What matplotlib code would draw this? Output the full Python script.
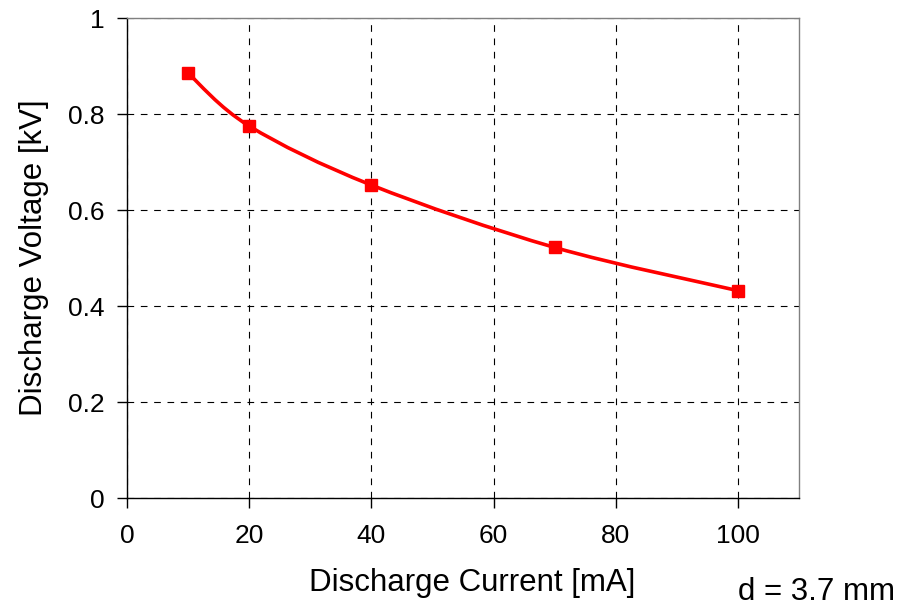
import matplotlib
matplotlib.use("Agg")
import matplotlib.pyplot as plt
from matplotlib.path import Path
from matplotlib.patches import PathPatch

plt.rcParams['font.family'] = ['Liberation Sans', 'DejaVu Sans']

current = [10, 20, 40, 70, 100]
voltage = [0.885, 0.775, 0.652, 0.522, 0.432]
xticks = [0, 20, 40, 60, 80, 100]
xticklabels = ["0", "20", "40", "60", "80", "100"]
yticks = [0, 0.2, 0.4, 0.6, 0.8, 1.0]
yticklabels = ["0", "0.2", "0.4", "0.6", "0.8", "1"]

fig = plt.figure(figsize=(9.09, 6.06), dpi=100)
ax = fig.add_axes([127/909, 1-498/606, (799-127)/909, (498-18)/606])
ax.set_xlim(0, 110)
ax.set_ylim(0, 1)

# Smoothed line (Bezier, Excel-style)
pts = list(zip(current, voltage))
n = len(pts)
verts = [pts[0]]
codes = [Path.MOVETO]
for i in range(n - 1):
    p0 = pts[i - 1] if i > 0 else pts[i]
    p1 = pts[i]
    p2 = pts[i + 1]
    p3 = pts[i + 2] if i + 2 < n else pts[i + 1]
    c1 = (p1[0] + (p2[0] - p0[0]) / 6, p1[1] + (p2[1] - p0[1]) / 6)
    c2 = (p2[0] - (p3[0] - p1[0]) / 6, p2[1] - (p3[1] - p1[1]) / 6)
    verts += [c1, c2, p2]
    codes += [Path.CURVE4] * 3
ax.add_patch(PathPatch(Path(verts, codes), facecolor='none', edgecolor='#ff0000',
                       lw=2.6, zorder=3, capstyle='round', joinstyle='round'))
ax.plot(current, voltage, linestyle='none', marker='s', markersize=8.5,
        color='#ff0000', zorder=4)

ax.set_xticks(xticks)
ax.set_xticklabels(xticklabels)
ax.set_yticks(yticks)
ax.set_yticklabels(yticklabels)
ax.tick_params(direction='out', length=7, width=1, labelsize=19, colors='black')
ax.tick_params(axis='x', pad=12)
ax.tick_params(axis='y', pad=9)
ax.grid(True, color='black', linestyle=(0, (6, 6)), linewidth=0.8)

for s in ['left', 'bottom']:
    ax.spines[s].set_color('black')
    ax.spines[s].set_linewidth(1.0)
for s in ['top', 'right']:
    ax.spines[s].set_color('#808080')
    ax.spines[s].set_linewidth(1.0)

ax.set_xlabel("Discharge Current [mA]", fontsize=22.5, va='center')
ax.xaxis.set_label_coords((472.5-127)/672, (498-583)/480)
ax.set_ylabel("Discharge Voltage [kV]", fontsize=22.5, labelpad=14)
fig.text(816/909, 1-592/606, "d = 3.7 mm", fontsize=22.5, ha='center', va='center')

fig.savefig("out.png", dpi=100)
